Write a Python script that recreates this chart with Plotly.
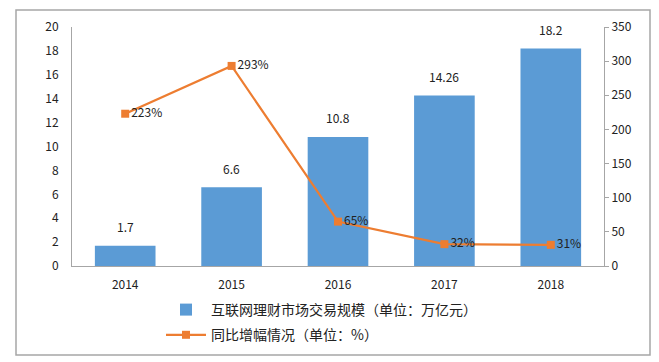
import plotly.graph_objects as go

years = ["2014", "2015", "2016", "2017", "2018"]
scale = [1.7, 6.6, 10.8, 14.26, 18.2]
growth = [223, 293, 65, 32, 31]
scale_labels = ["1.7", "6.6", "10.8", "14.26", "18.2"]
growth_labels = ["223%", "293%", "65%", "32%", "31%"]

BLUE = "#5B9BD5"
ORANGE = "#ED7D31"
FONT = "Noto Sans CJK SC, Liberation Sans, sans-serif"

# the page body adds an 8px offset; work in figure pixels
OFF = 8
FW, FH = 659 - OFF, 362 - OFF
L, R, T, B = 72 - OFF, 604 - OFF, 27 - OFF, 266 - OFF
W, H = R - L, B - T

fig = go.Figure()
fig.add_trace(go.Bar(
    x=years, y=scale, name="互联网理财市场交易规模（单位：万亿元）",
    marker=dict(color=BLUE, line=dict(width=0)),
    width=0.57, legendgroup="a",
))
fig.add_trace(go.Scatter(
    x=years, y=growth, name="同比增幅情况（单位：%）", yaxis="y2",
    mode="lines+markers+text",
    line=dict(color=ORANGE, width=2.2),
    marker=dict(symbol="square", size=8, color=ORANGE),
    text=growth_labels, textposition="middle right",
    textfont=dict(size=12, color="#222222"), cliponaxis=False,
    legendgroup="b",
))

# bar value labels (x given as category index on the category axis)
for i, (v, lab) in enumerate(zip(scale, scale_labels)):
    fig.add_annotation(x=i, y=v, xref="x", yref="y", text=lab,
                       showarrow=False, yanchor="middle", yshift=19,
                       font=dict(size=12, color="#222222"))

fig.update_layout(
    width=FW, height=FH,
    margin=dict(l=L, r=FW - R, t=T, b=FH - B, autoexpand=False),
    paper_bgcolor="white", plot_bgcolor="white",
    font=dict(family=FONT, size=12, color="#222222"),
    showlegend=True,
    legend=dict(
        orientation="v", x=(161 - OFF - L) / W, xanchor="left",
        y=-(294 - OFF - B) / H, yanchor="top",
        font=dict(size=14, color="#222222"), tracegroupgap=4,
        traceorder="grouped",
        itemwidth=40, bgcolor="rgba(0,0,0,0)",
    ),
    xaxis=dict(
        type="category", categoryorder="array", categoryarray=years,
        range=[-0.5, len(years) - 0.5],
        showline=True, linecolor="#a6a6a6", linewidth=1,
        ticks="", tickfont=dict(size=12), showgrid=False,
        ticklabelstandoff=8,
    ),
    yaxis=dict(
        range=[0, 20], dtick=2, showgrid=False,
        showline=True, linecolor="#a6a6a6", linewidth=1,
        ticks="", tickfont=dict(size=12), ticklabelstandoff=10,
        zeroline=False,
    ),
    yaxis2=dict(
        range=[0, 350], dtick=50, overlaying="y", side="right",
        showgrid=False, showline=True, linecolor="#a6a6a6", linewidth=1,
        ticks="outside", ticklen=4, tickcolor="#a6a6a6",
        tickfont=dict(size=12), zeroline=False,
    ),
    bargap=0.43,
)

# outer chart border
fig.add_shape(type="rect", xref="paper", yref="paper",
              x0=(16 - OFF - L) / W, x1=(650 - OFF - L) / W,
              y0=(B - (355 - OFF)) / H, y1=(B - (10 - OFF)) / H,
              line=dict(color="#a6a6a6", width=1.5), layer="below")

fig.write_html("out.html")
